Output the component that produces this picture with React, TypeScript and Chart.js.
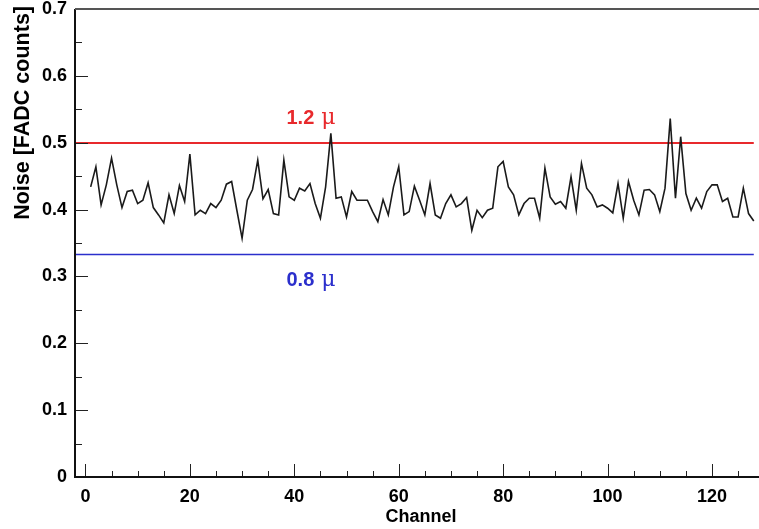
import React, { useEffect, useRef } from "react";
import { Chart, registerables } from "chart.js";

Chart.register(...registerables);

// Noise per FADC channel (channels 1..128)
const firstChannel = 1;
const noise = [
  0.434, 0.464, 0.407, 0.437, 0.477, 0.437, 0.403, 0.427, 0.429, 0.409,
  0.414, 0.440, 0.403, 0.392, 0.380, 0.422, 0.394, 0.436, 0.412, 0.483,
  0.392, 0.399, 0.394, 0.409, 0.403, 0.414, 0.438, 0.442, 0.399, 0.357,
  0.414, 0.430, 0.474, 0.416, 0.430, 0.394, 0.392, 0.474, 0.419, 0.414,
  0.432, 0.428, 0.439, 0.409, 0.387, 0.434, 0.514, 0.417, 0.419, 0.389,
  0.427, 0.414, 0.414, 0.414, 0.397, 0.382, 0.415, 0.392, 0.434, 0.464,
  0.392, 0.397, 0.435, 0.414, 0.392, 0.439, 0.392, 0.387, 0.409, 0.422,
  0.404, 0.409, 0.418, 0.369, 0.399, 0.388, 0.399, 0.402, 0.464, 0.472,
  0.434, 0.422, 0.392, 0.409, 0.417, 0.417, 0.387, 0.462, 0.419, 0.408,
  0.412, 0.402, 0.449, 0.399, 0.469, 0.432, 0.422, 0.404, 0.407, 0.402,
  0.395, 0.439, 0.387, 0.442, 0.414, 0.392, 0.429, 0.430, 0.422, 0.397,
  0.432, 0.536, 0.417, 0.509, 0.424, 0.399, 0.417, 0.402, 0.427, 0.437,
  0.437, 0.412, 0.417, 0.389, 0.389, 0.432, 0.394, 0.383,
];

// Reference levels: 1.2 mu and 0.8 mu
const upperLevel = 0.5;
const lowerLevel = 0.3333;
const levelEnd = 128;
const upperLabel = "1.2";
const lowerLabel = "0.8";
const muSymbol = "\u03bc";
const labelChannel = 38.5; // left edge of the label text, in channel units
const upperLabelY = 0.528;
const lowerLabelY = 0.286;

const xTicks = [0, 20, 40, 60, 80, 100, 120];
const yTicks = [0, 0.1, 0.2, 0.3, 0.4, 0.5, 0.6, 0.7];
const xRange = [-2, 129];
const yRange = [0, 0.7];
const xTitle = "Channel";
const yTitle = "Noise [FADC counts]";

const FONT = "'Liberation Sans', Arial, Helvetica, sans-serif";
const RED = "#e8292c";
const BLUE = "#2b2fcc";

const framePlugin = {
  id: "rootFrame",
  beforeDatasetsDraw(chart: any) {
    const { ctx, chartArea: a, scales } = chart;
    const x = scales.x;
    const y = scales.y;
    ctx.save();
    const hline = (v: number, color: string, w: number) => {
      const py = Math.round(y.getPixelForValue(v)) + (w % 2 ? 0.5 : 0);
      ctx.strokeStyle = color;
      ctx.lineWidth = w;
      ctx.beginPath();
      ctx.moveTo(a.left, py);
      ctx.lineTo(x.getPixelForValue(levelEnd), py);
      ctx.stroke();
    };
    hline(upperLevel, RED, 2);
    hline(lowerLevel, BLUE, 1.5);
    ctx.restore();
  },
  afterDatasetsDraw(chart: any) {
    const { ctx, chartArea: a, scales } = chart;
    const x = scales.x;
    const y = scales.y;
    ctx.save();

    // inner tick marks (ROOT style)
    ctx.strokeStyle = "#222";
    ctx.lineWidth = 1;
    ctx.beginPath();
    for (let v = 0; v <= 125; v += 5) {
      const px = Math.round(x.getPixelForValue(v)) + 0.5;
      const len = v % 20 === 0 ? 13 : 6;
      ctx.moveTo(px, a.bottom);
      ctx.lineTo(px, a.bottom - len);
    }
    for (let i = 0; i <= 14; i++) {
      const v = i * 0.05;
      const py = Math.round(y.getPixelForValue(v)) + 0.5;
      const len = i % 2 === 0 ? 13 : 7;
      ctx.moveTo(a.left, py);
      ctx.lineTo(a.left + len, py);
    }
    ctx.stroke();

    // frame
    ctx.lineWidth = 2;
    ctx.strokeStyle = "#111";
    ctx.beginPath();
    ctx.moveTo(a.left, a.top);
    ctx.lineTo(a.left, a.bottom);
    ctx.lineTo(a.right, a.bottom);
    ctx.stroke();
    ctx.strokeStyle = "#555";
    ctx.beginPath();
    ctx.moveTo(a.left, a.top);
    ctx.lineTo(a.right, a.top);
    ctx.stroke();

    // reference labels
    const drawLabel = (txt: string, yv: number, color: string) => {
      const px = x.getPixelForValue(labelChannel);
      const py = y.getPixelForValue(yv);
      ctx.fillStyle = color;
      ctx.textAlign = "left";
      ctx.textBaseline = "alphabetic";
      ctx.font = `bold 20px ${FONT}`;
      ctx.fillText(txt, px, py);
      const w = ctx.measureText(txt).width;
      ctx.font = `22px 'DejaVu Serif', serif`;
      ctx.fillText(muSymbol, px + w + 7, py);
    };
    drawLabel(upperLabel, upperLabelY, RED);
    drawLabel(lowerLabel, lowerLabelY, BLUE);

    // axis titles
    ctx.fillStyle = "#000";
    ctx.font = `bold 18px ${FONT}`;
    ctx.textAlign = "center";
    ctx.textBaseline = "alphabetic";
    ctx.fillText(xTitle, (a.left + a.right) / 2 + 4, 522);

    ctx.save();
    ctx.translate(29, 6);
    ctx.rotate(-Math.PI / 2);
    ctx.textAlign = "right";
    ctx.textBaseline = "alphabetic";
    ctx.font = `bold 21.5px ${FONT}`;
    ctx.fillText(yTitle, 0, 0);
    ctx.restore();

    ctx.restore();
  },
};

const zeroPad = (s: any) => {
  s.paddingTop = 0;
  s.paddingBottom = 0;
  s.paddingLeft = 0;
  s.paddingRight = 0;
};

export default function App() {
  const canvasRef = useRef<HTMLCanvasElement | null>(null);

  useEffect(() => {
    document.body.style.margin = "0";
    const canvas = canvasRef.current;
    if (!canvas) return;
    const points = noise.map((v, i) => ({ x: firstChannel + i, y: v }));
    const chart = new Chart(canvas, {
      type: "line",
      data: {
        datasets: [
          {
            data: points,
            borderColor: "#1a1a1a",
            borderWidth: 1.6,
            pointRadius: 0,
            tension: 0,
          },
        ],
      },
      options: {
        responsive: false,
        animation: false,
        devicePixelRatio: 1,
        layout: { padding: { top: 9, right: 0, left: 0, bottom: 0 } },
        plugins: {
          legend: { display: false },
          tooltip: { enabled: false },
          title: { display: false },
        },
        scales: {
          x: {
            type: "linear",
            min: xRange[0],
            max: xRange[1],
            grid: { display: false, drawTicks: false },
            border: { display: false },
            afterBuildTicks: (s: any) => {
              s.ticks = xTicks.map((v) => ({ value: v }));
            },
            afterFit: (s: any) => {
              s.height = 52;
              zeroPad(s);
            },
            ticks: {
              color: "#000",
              padding: 11,
              maxRotation: 0,
              autoSkip: false,
              font: { family: FONT, size: 18, weight: "bold", lineHeight: 1 },
              callback: (v: any) => String(v),
            },
          },
          y: {
            type: "linear",
            min: yRange[0],
            max: yRange[1],
            grid: { display: false, drawTicks: false },
            border: { display: false },
            afterBuildTicks: (s: any) => {
              s.ticks = yTicks.map((v) => ({ value: v }));
            },
            afterFit: (s: any) => {
              s.width = 75;
              zeroPad(s);
            },
            ticks: {
              color: "#000",
              padding: 8,
              autoSkip: false,
              font: { family: FONT, size: 18, weight: "bold", lineHeight: 1 },
              callback: (v: any) => (Number(v) === 0 ? "0" : Number(v).toFixed(1)),
            },
          },
        },
      },
      plugins: [framePlugin],
    });
    return () => chart.destroy();
  }, []);

  return (
    <div style={{ position: "fixed", left: 0, top: 0, width: 759, height: 529, background: "#fff" }}>
      <canvas ref={canvasRef} width={759} height={529} style={{ display: "block" }} />
    </div>
  );
}
